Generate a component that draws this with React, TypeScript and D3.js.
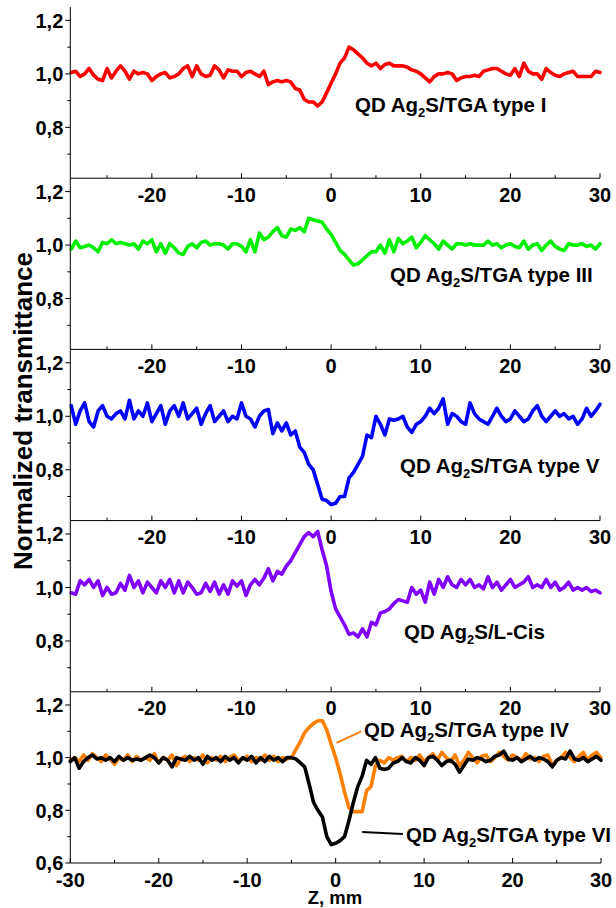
import React from "react";
import * as d3 from "d3";

// ---- Data (normalized transmittance, z step 0.5 mm) ----
// Upper four panels: z from -29 to 30
const typeI = [
  1.005, 1.01, 0.99, 1.0, 1.02, 0.995, 0.98, 0.975, 1.02, 0.985,
  1.01, 1.03, 1.01, 0.98, 1.01, 1.0, 1.005, 1.0, 0.975, 0.99,
  1.0, 1.005, 0.985, 0.99, 1.0, 1.02, 1.03, 0.99, 1.03, 1.0,
  0.99, 0.995, 1.03, 1.015, 0.985, 1.015, 1.01, 1.01, 0.99, 1.005,
  1.01, 1.0, 0.99, 1.01, 0.96, 0.97, 0.975, 0.97, 0.975, 0.97,
  0.945, 0.94, 0.905, 0.895, 0.895, 0.88, 0.895, 0.93, 0.965, 1.0,
  1.04, 1.06, 1.1, 1.09, 1.075, 1.06, 1.04, 1.03, 1.04, 1.02,
  1.035, 1.04, 1.03, 1.03, 1.03, 1.025, 1.015, 1.01, 1.0, 0.985,
  0.97, 0.99, 1.0, 1.0, 1.005, 1.0, 0.975, 0.985, 0.99, 0.99,
  0.995, 0.99, 1.01, 1.015, 1.02, 1.02, 1.01, 1.0, 0.995, 1.02,
  0.99, 1.04, 1.01, 1.0, 1.0, 0.98, 1.02, 1.005, 0.995, 0.99,
  1.0, 1.005, 1.01, 0.99, 0.99, 0.99, 0.99, 1.01, 1.005,
];

const typeIII = [
  0.985, 1.015, 0.99, 0.995, 1.0, 0.99, 0.975, 1.01, 1.005, 1.02,
  1.005, 1.01, 1.005, 1.0, 1.005, 0.985, 1.015, 1.005, 1.02, 0.975,
  1.005, 0.97, 1.005, 0.99, 0.97, 0.965, 0.995, 1.005, 0.99, 1.01,
  1.015, 1.0, 1.005, 1.005, 1.0, 0.985, 1.005, 1.005, 0.995, 0.975,
  1.02, 0.975, 1.045, 1.02, 1.03, 1.05, 1.065, 1.035, 1.03, 1.06,
  1.055, 1.065, 1.05, 1.1, 1.095, 1.09, 1.085, 1.06, 1.04, 1.01,
  0.98, 0.965, 0.945, 0.925, 0.93, 0.945, 0.96, 0.975, 0.975, 1.0,
  0.97, 1.02, 0.975, 1.025, 1.005, 1.015, 1.03, 0.99, 1.01, 1.035,
  1.02, 1.005, 0.985, 1.015, 1.0, 0.985, 1.005, 1.005, 1.0, 1.005,
  1.0, 1.0, 1.0, 1.015, 1.0, 1.005, 0.99, 1.0, 1.005, 0.995,
  0.99, 1.015, 0.985, 1.0, 1.005, 0.98, 1.0, 1.015, 0.995, 0.985,
  0.98, 1.005, 1.0, 1.0, 1.005, 0.995, 1.0, 0.985, 1.005,
];

const typeV = [
  1.04, 0.97, 1.02, 1.05, 0.98, 0.96, 1.02, 1.04, 1.0, 0.99,
  1.01, 1.02, 0.99, 1.06, 0.99, 1.02, 1.0, 1.05, 0.98, 1.01,
  1.04, 0.97, 1.02, 1.04, 1.0, 1.05, 0.99, 1.01, 1.03, 0.97,
  1.01, 1.04, 0.98, 1.0, 1.02, 0.98, 1.0, 0.99, 1.05, 1.0,
  0.99, 0.96, 1.0, 1.02, 1.025, 0.935, 0.975, 0.945, 0.975, 0.93,
  0.945, 0.885, 0.865, 0.82, 0.8, 0.745, 0.69, 0.685, 0.67, 0.675,
  0.7, 0.7, 0.77, 0.79, 0.82, 0.85, 0.93, 0.92, 1.0, 0.97,
  0.93, 0.99, 0.985, 0.99, 1.0, 0.96, 0.94, 0.97, 0.98, 1.0,
  1.03, 1.01, 1.03, 1.065, 0.97, 1.01, 1.0, 0.98, 0.97, 1.05,
  1.01, 0.99, 0.98, 0.97, 1.0, 1.03, 1.0, 0.98, 0.99, 1.02,
  1.0, 0.98, 0.99, 1.02, 1.04, 1.0, 0.98, 1.0, 1.02, 1.0,
  1.01, 0.99, 1.0, 0.97, 0.99, 1.03, 1.0, 1.02, 1.045,
];

const lCis = [
  0.98, 0.975, 1.025, 1.01, 1.03, 1.0, 1.025, 0.97, 1.0, 0.975,
  0.98, 1.015, 0.99, 1.045, 1.0, 1.025, 0.98, 1.02, 1.0, 0.98,
  1.025, 1.0, 1.03, 0.98, 1.025, 0.98, 1.02, 1.0, 0.975, 0.98,
  1.015, 0.985, 1.02, 0.975, 1.01, 0.975, 1.025, 1.005, 1.025, 0.97,
  1.01, 1.03, 1.01, 1.035, 1.07, 1.025, 1.06, 1.05, 1.08, 1.1,
  1.13, 1.16, 1.19, 1.205, 1.19, 1.21, 1.14, 1.08, 0.985, 0.92,
  0.89, 0.86, 0.825, 0.83, 0.815, 0.845, 0.815, 0.87, 0.86, 0.905,
  0.91, 0.92, 0.94, 0.955, 0.95, 0.945, 1.0, 0.975, 0.99, 0.945,
  1.02, 0.975, 1.03, 1.0, 1.04, 1.01, 1.0, 1.03, 1.01, 1.03,
  1.0, 1.01, 0.995, 1.04, 1.0, 1.02, 0.99, 1.01, 1.03, 1.0,
  1.01, 1.02, 1.04, 1.0, 1.01, 1.0, 1.03, 1.0, 1.02, 0.99,
  1.0, 1.02, 0.99, 1.0, 0.99, 1.0, 0.985, 0.99, 0.98,
];

// Bottom panel: z from -30 to 30
const typeIV = [
  0.99, 1.0, 0.985, 1.01, 0.99, 1.015, 1.0, 0.985, 1.01, 0.995,
  0.975, 1.0, 0.99, 1.01, 0.985, 1.005, 0.99, 1.0, 0.99, 1.015,
  0.98, 1.0, 0.99, 1.01, 0.97, 0.995, 1.005, 0.985, 1.0, 0.99,
  1.01, 0.98, 1.0, 0.99, 1.005, 0.985, 1.0, 1.01, 0.99, 0.995,
  1.005, 0.985, 1.0, 0.99, 1.01, 0.99, 1.005, 0.985, 1.0, 0.995,
  1.0, 1.03, 1.06, 1.095, 1.115, 1.13, 1.14, 1.14, 1.105, 1.05,
  1.0, 0.94, 0.87, 0.81, 0.795, 0.795, 0.795, 0.875, 0.89, 0.97,
  0.99, 0.98, 1.0, 0.99, 1.0, 1.005, 0.985, 1.0, 0.99, 1.01,
  0.985, 1.0, 1.015, 0.99, 1.02, 1.0, 0.985, 1.01, 0.97, 0.99,
  1.02, 1.0, 0.98, 1.005, 1.01, 0.985, 1.0, 1.02, 1.005, 0.99,
  1.01, 1.0, 0.99, 1.015, 0.995, 1.0, 0.985, 1.005, 1.01, 0.97,
  0.99, 1.0, 1.02, 1.0, 0.985, 1.005, 1.02, 0.99, 1.01, 1.02,
  1.0,
];

const typeVI = [
  0.985, 1.0, 0.96, 0.985, 1.0, 1.01, 0.995, 1.0, 0.99, 1.0,
  0.985, 1.005, 0.99, 1.0, 0.99, 0.995, 0.99, 1.0, 1.01, 1.0,
  0.98, 1.0, 0.99, 0.965, 1.0, 0.995, 0.99, 1.005, 0.99, 1.0,
  0.975, 1.005, 0.99, 1.0, 0.985, 1.005, 0.99, 1.0, 0.98, 1.0,
  0.99, 1.005, 0.98, 1.0, 0.985, 1.005, 0.99, 1.0, 0.985, 1.0,
  1.0, 0.995, 0.98, 0.965, 0.9, 0.83, 0.8, 0.775, 0.7, 0.67,
  0.675, 0.685, 0.7, 0.76, 0.83, 0.89, 0.93, 0.99, 0.975, 1.0,
  0.96, 0.955, 0.96, 0.98, 0.985, 1.0, 0.985, 0.98, 1.0, 0.99,
  0.97, 1.0, 1.005, 0.99, 0.97, 0.985, 0.99, 0.975, 0.945, 0.97,
  0.995, 0.99, 1.0, 0.995, 0.985, 0.99, 1.005, 1.01, 1.025, 0.995,
  0.99, 1.0, 0.985, 0.995, 1.005, 0.99, 1.0, 0.995, 0.985, 0.965,
  0.99, 1.0, 0.995, 1.025, 0.995, 0.99, 1.0, 0.985, 0.995, 1.005,
  0.99,
];

const xTickValues = [-30, -20, -10, 0, 10, 20, 30];
const xMinorValues = [-25, -15, -5, 5, 15, 25];
const yTickUpper = [0.8, 1.0, 1.2];
const yTickLower = [0.6, 0.8, 1.0, 1.2];
const yMinorValues = [0.7, 0.9, 1.1];

const Z_STEP = 0.5;

// ---- Layout ----
const W = 616;
const H = 908;
const LEFT = 70.3;
const RIGHT = 600.5;
const PANEL_H = 171.2;
const TOP0 = 7;
const FONT = "'Liberation Sans', Arial, Helvetica, sans-serif";

type Series = { values: number[]; color: string; z0: number };
type Label = { x: number; y: number; rest: string };
type Panel = {
  series: Series[];
  xDomain: [number, number];
  xRange: [number, number];
  yDomain: [number, number];
  yTicks: number[];
  labels: Label[];
};

const panels: Panel[] = [
  {
    series: [{ values: typeI, color: "#ff0000", z0: -29 }],
    xDomain: [-29.1, 30],
    xRange: [LEFT, RIGHT - 0.5],
    yDomain: [0.61, 1.25],
    yTicks: yTickUpper,
    labels: [{ x: 355, y: 112, rest: "S/TGA type I" }],
  },
  {
    series: [{ values: typeIII, color: "#00f000", z0: -29 }],
    xDomain: [-29.1, 30],
    xRange: [LEFT, RIGHT - 0.5],
    yDomain: [0.61, 1.25],
    yTicks: yTickUpper,
    labels: [{ x: 390, y: 282, rest: "S/TGA type III" }],
  },
  {
    series: [{ values: typeV, color: "#0000ff", z0: -29 }],
    xDomain: [-29.1, 30],
    xRange: [LEFT, RIGHT - 0.5],
    yDomain: [0.61, 1.25],
    yTicks: yTickUpper,
    labels: [{ x: 400, y: 473, rest: "S/TGA type V" }],
  },
  {
    series: [{ values: lCis, color: "#8000ff", z0: -29 }],
    xDomain: [-29.1, 30],
    xRange: [LEFT, RIGHT - 0.5],
    yDomain: [0.61, 1.25],
    yTicks: yTickUpper,
    labels: [{ x: 404, y: 639, rest: "S/L-Cis" }],
  },
  {
    series: [
      { values: typeIV, color: "#ff8000", z0: -30 },
      { values: typeVI, color: "#000000", z0: -30 },
    ],
    xDomain: [-30, 30],
    xRange: [LEFT, RIGHT + 0.5],
    yDomain: [0.6, 1.25],
    yTicks: yTickLower,
    labels: [
      { x: 364, y: 736.5, rest: "S/TGA type IV" },
      { x: 406, y: 842, rest: "S/TGA type VI" },
    ],
  },
];

const fmtY = (v: number) => v.toFixed(1).replace(".", ",");

function PanelView({ p, index }: { p: Panel; index: number }) {
  const top = TOP0 + index * PANEL_H;
  const bottom = top + PANEL_H;
  const x = d3.scaleLinear().domain(p.xDomain).range(p.xRange);
  const y = d3.scaleLinear().domain(p.yDomain).range([bottom, top]);
  const [xmin, xmax] = p.xDomain;
  const majors = xTickValues.filter((t) => t >= xmin - 1e-6 && t <= xmax + 1e-6);
  const minors = xMinorValues.filter((t) => t >= xmin && t <= xmax);

  return (
    <g>
      {p.series.map((s, si) => {
        const pts: [number, number][] = s.values.map((v, i) => [s.z0 + i * Z_STEP, v]);
        const gen = d3
          .line<[number, number]>()
          .x((d) => x(d[0]))
          .y((d) => y(d[1]));
        return (
          <path
            key={si}
            d={gen(pts) || ""}
            fill="none"
            stroke={s.color}
            strokeWidth={3.6}
            strokeLinejoin="round"
            strokeLinecap="round"
          />
        );
      })}
      {/* left axis */}
      <line x1={LEFT} x2={LEFT} y1={top} y2={bottom} stroke="#000" strokeWidth={1} />
      {p.yTicks.map((t) => (
        <g key={"yt" + t}>
          <line x1={LEFT - 5} x2={LEFT} y1={y(t)} y2={y(t)} stroke="#000" strokeWidth={1} />
          <text
            x={LEFT - 7}
            y={y(t)}
            dy="0.36em"
            textAnchor="end"
            fontFamily={FONT}
            fontWeight="bold"
            fontSize={20}
          >
            {fmtY(t)}
          </text>
        </g>
      ))}
      {yMinorValues.map((t) => (
        <line key={"ym" + t} x1={LEFT - 3} x2={LEFT} y1={y(t)} y2={y(t)} stroke="#000" strokeWidth={1} />
      ))}
      {/* bottom axis */}
      <line x1={LEFT} x2={p.xRange[1]} y1={bottom} y2={bottom} stroke="#000" strokeWidth={1} />
      {majors.map((t) => (
        <g key={"xt" + t}>
          <line x1={x(t)} x2={x(t)} y1={bottom} y2={bottom - 5} stroke="#000" strokeWidth={1} />
          <text
            x={x(t)}
            y={bottom + 23.5}
            textAnchor="middle"
            fontFamily={FONT}
            fontWeight="bold"
            fontSize={20}
          >
            {String(t)}
          </text>
        </g>
      ))}
      {minors.map((t) => (
        <line key={"xm" + t} x1={x(t)} x2={x(t)} y1={bottom} y2={bottom - 3} stroke="#000" strokeWidth={1} />
      ))}
      {p.labels.map((l, li) => (
        <text key={"lb" + li} x={l.x} y={l.y} fontFamily={FONT} fontWeight="bold" fontSize={20.5}>
          QD Ag
          <tspan fontSize={13} dy={5}>
            2
          </tspan>
          <tspan dy={-5}>{l.rest}</tspan>
        </text>
      ))}
      {index === 4 && (
        <g>
          <line
            x1={x(0.1)}
            y1={y(1.056)}
            x2={x(2.9)}
            y2={y(1.1)}
            stroke="#ff8000"
            strokeWidth={2}
          />
          <line
            x1={x(3.0)}
            y1={y(0.718)}
            x2={x(7.6)}
            y2={y(0.71)}
            stroke="#000"
            strokeWidth={2}
          />
        </g>
      )}
    </g>
  );
}

export default function App() {
  return (
    <svg
      width={W}
      height={H}
      viewBox={`0 0 ${W} ${H}`}
      style={{ position: "absolute", left: 0, top: 0, background: "#fff" }}
    >
      <rect x={0} y={0} width={W} height={H} fill="#fff" />
      {panels.map((p, i) => (
        <PanelView key={i} p={p} index={i} />
      ))}
      <text
        transform={`translate(32, 411) rotate(-90)`}
        textAnchor="middle"
        fontFamily={FONT}
        fontWeight="bold"
        fontSize={26}
      >
        Normalized transmittance
      </text>
      <text x={335} y={903.5} textAnchor="middle" fontFamily={FONT} fontWeight="bold" fontSize={18.5}>
        Z, mm
      </text>
    </svg>
  );
}
